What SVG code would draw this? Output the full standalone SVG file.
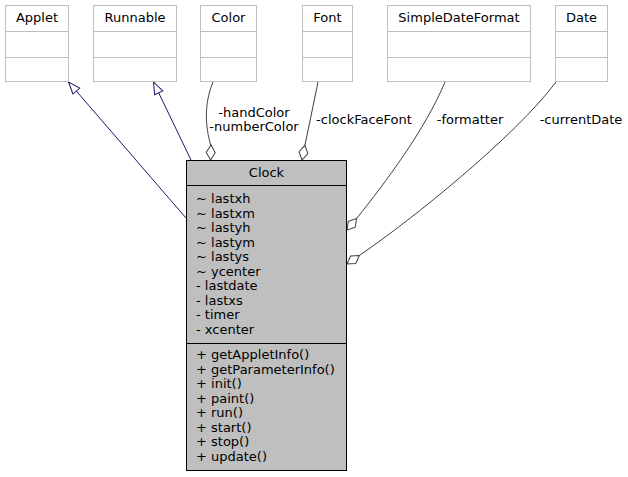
<svg xmlns="http://www.w3.org/2000/svg" width="628" height="477" viewBox="0 0 628 477">
<style>
text{font-family:"DejaVu Sans","Liberation Sans",sans-serif;font-size:13px;fill:#000}
.c{text-anchor:middle}
.ext rect{fill:#fff;stroke:#bfbfbf;stroke-width:1}
.ext line{stroke:#bfbfbf;stroke-width:1}
.main rect{fill:#bfbfbf;stroke:#000;stroke-width:1}
.main line{stroke:#000;stroke-width:1}
.inh{fill:none;stroke:#191970;stroke-width:1;marker-end:url(#tri)}
.agg{fill:none;stroke:#404040;stroke-width:1;marker-start:url(#dia)}
</style>
<defs>
<marker id="tri" markerUnits="userSpaceOnUse" markerWidth="14" markerHeight="11" refX="12.5" refY="5" orient="auto" overflow="visible">
<path d="M0.5,0.5 L12.5,5 L0.5,9.5 z" fill="#fff" stroke="#191970" stroke-width="1"/>
</marker>
<marker id="dia" markerUnits="userSpaceOnUse" markerWidth="17" markerHeight="11" refX="0.5" refY="5" orient="auto" overflow="visible">
<path d="M0.5,5 L8,0.5 L15.5,5 L8,9.5 z" fill="#fff" stroke="#404040" stroke-width="1"/>
</marker>
</defs>

<g id="connectors">
<path class="inh" d="M186,218 L68.5,82"/>
<path class="inh" d="M191,160 L153.5,82"/>
<path class="agg" d="M210.5,160 L211,146 C205,126 204,104 213,82"/>
<path class="agg" d="M302,160 L305,145 L318,82"/>
<path class="agg" d="M347,230 L357,218 C385,183 425,130 445,82"/>
<path class="agg" d="M347,264 L360,255 C410,221 515,137 556,82"/>
<text class="c" x="254" y="117">-handColor</text>
<text class="c" x="254" y="131">-numberColor</text>
<text class="c" x="364" y="124">-clockFaceFont</text>
<text class="c" x="470" y="124">-formatter</text>
<text class="c" x="581" y="124">-currentDate</text>
</g>

<g id="Applet" class="ext">
<rect x="5.5" y="5.5" width="63" height="76"/>
<line x1="5.5" y1="31.5" x2="68.5" y2="31.5"/>
<line x1="5.5" y1="57.5" x2="68.5" y2="57.5"/>
<text class="c" x="37" y="22">Applet</text>
</g>
<g id="Runnable" class="ext">
<rect x="93.5" y="5.5" width="83" height="76"/>
<line x1="93.5" y1="31.5" x2="176.5" y2="31.5"/>
<line x1="93.5" y1="57.5" x2="176.5" y2="57.5"/>
<text class="c" x="135" y="22">Runnable</text>
</g>
<g id="Color" class="ext">
<rect x="200.5" y="5.5" width="56" height="76"/>
<line x1="200.5" y1="31.5" x2="256.5" y2="31.5"/>
<line x1="200.5" y1="57.5" x2="256.5" y2="57.5"/>
<text class="c" x="228.5" y="22">Color</text>
</g>
<g id="Font" class="ext">
<rect x="302.5" y="5.5" width="50" height="76"/>
<line x1="302.5" y1="31.5" x2="352.5" y2="31.5"/>
<line x1="302.5" y1="57.5" x2="352.5" y2="57.5"/>
<text class="c" x="327.5" y="22">Font</text>
</g>
<g id="SimpleDateFormat" class="ext">
<rect x="387.5" y="5.5" width="143" height="76"/>
<line x1="387.5" y1="31.5" x2="530.5" y2="31.5"/>
<line x1="387.5" y1="57.5" x2="530.5" y2="57.5"/>
<text class="c" x="459" y="22">SimpleDateFormat</text>
</g>
<g id="Date" class="ext">
<rect x="555.5" y="5.5" width="52" height="76"/>
<line x1="555.5" y1="31.5" x2="607.5" y2="31.5"/>
<line x1="555.5" y1="57.5" x2="607.5" y2="57.5"/>
<text class="c" x="581.5" y="22">Date</text>
</g>

<g id="Clock" class="main">
<rect x="186.5" y="160.5" width="160" height="310"/>
<line x1="186.5" y1="185.5" x2="346.5" y2="185.5"/>
<line x1="186.5" y1="343.5" x2="346.5" y2="343.5"/>
<text class="c" x="266.5" y="177">Clock</text>
<text x="196" y="203">~ lastxh</text>
<text x="196" y="217.5">~ lastxm</text>
<text x="196" y="232">~ lastyh</text>
<text x="196" y="246.5">~ lastym</text>
<text x="196" y="261">~ lastys</text>
<text x="196" y="275.5">~ ycenter</text>
<text x="196" y="290">- lastdate</text>
<text x="196" y="304.5">- lastxs</text>
<text x="196" y="319">- timer</text>
<text x="196" y="333.5">- xcenter</text>
<text x="196" y="359">+ getAppletInfo()</text>
<text x="196" y="373.5">+ getParameterInfo()</text>
<text x="196" y="388">+ init()</text>
<text x="196" y="402.5">+ paint()</text>
<text x="196" y="417">+ run()</text>
<text x="196" y="431.5">+ start()</text>
<text x="196" y="446">+ stop()</text>
<text x="196" y="460.5">+ update()</text>
</g>
</svg>
